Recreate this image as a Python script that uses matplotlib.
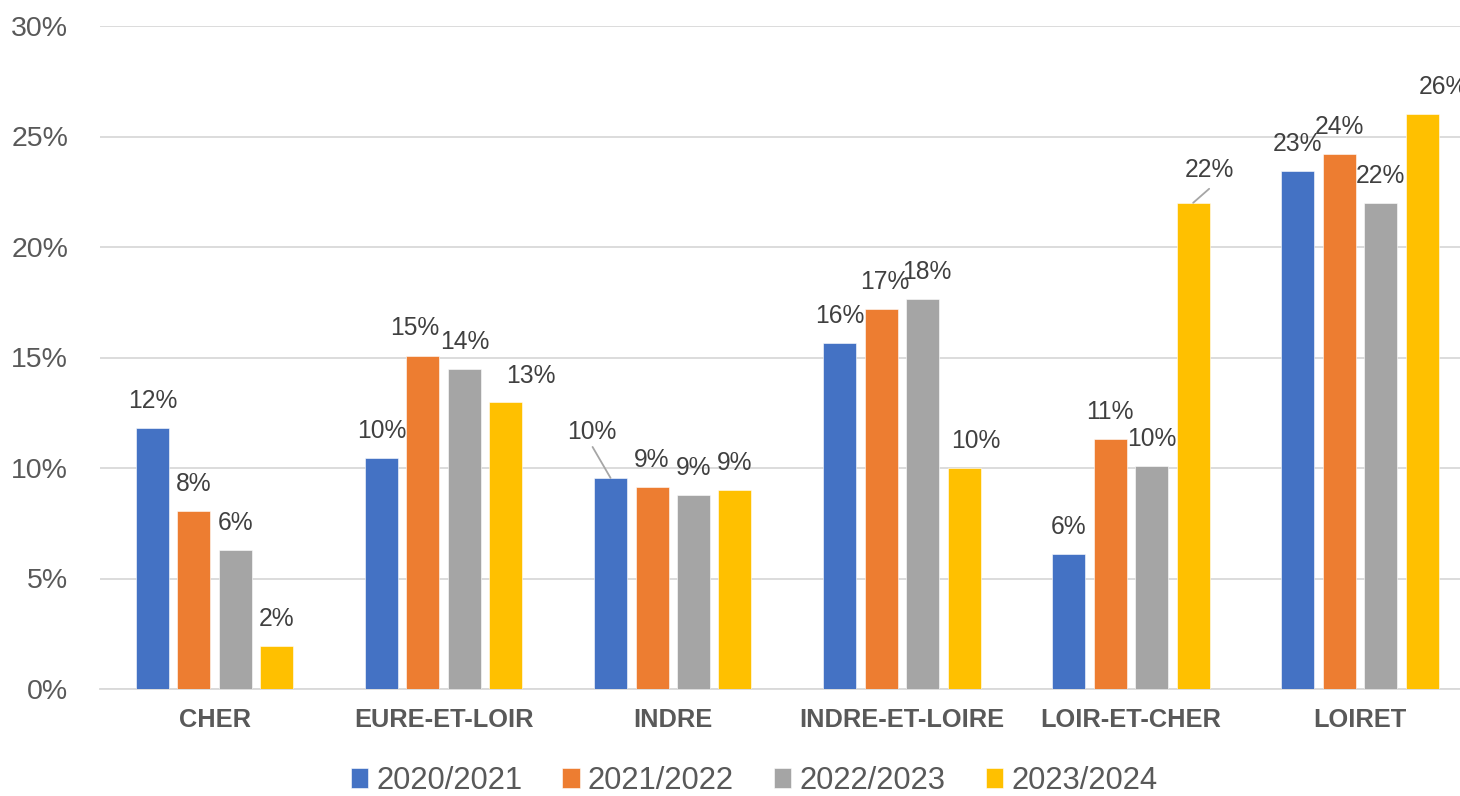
import matplotlib
matplotlib.use("Agg")
import matplotlib.pyplot as plt
import numpy as np

categories = ["CHER", "EURE-ET-LOIR", "INDRE", "INDRE-ET-LOIRE", "LOIR-ET-CHER", "LOIRET"]
series_names = ["2020/2021", "2021/2022", "2022/2023", "2023/2024"]
s2020 = [11.8, 10.45, 9.55, 15.65, 6.1, 23.45]
s2021 = [8.05, 15.05, 9.15, 17.2, 11.3, 24.2]
s2022 = [6.3, 14.5, 8.8, 17.65, 10.1, 22.0]
s2023 = [1.95, 13.0, 9.0, 10.0, 22.0, 26.0]
yticks = [0, 5, 10, 15, 20, 25, 30]

colors = ["#4472C4", "#ED7D31", "#A5A5A5", "#FFC000"]
text_color = "#595959"
label_color = "#404040"

plt.rcParams['font.family'] = ['Liberation Sans', 'DejaVu Sans']

W, H = 1460, 796
fig = plt.figure(figsize=(W / 100, H / 100), dpi=100)
ax = fig.add_axes([100 / W, 1 - 689 / H, 1360 / W, (689 - 26) / H])

series = [s2020, s2021, s2022, s2023]
x = np.arange(len(categories))
step = 0.181
width = 0.144
# label offsets in pixels (dx, dy) per (series, category); default (0, 27)
offsets = {
    (1, 1): (-8, 28), (3, 1): (25, 26),
    (0, 2): (-19, 46),
    (1, 3): (4, 27), (2, 3): (4, 27), (3, 3): (12, 27),
    (3, 4): (16, 33),
    (3, 5): (21, 27),
}
leaders = {(0, 2): (-18, 31), (3, 4): (16, 14)}

for i, (vals, col, name) in enumerate(zip(series, colors, series_names)):
    xs = x + (i - 1.5) * step
    ax.bar(xs, vals, width=width, color=col, label=name, zorder=3,
           edgecolor="white", linewidth=0.4)
    for j, (xx, v) in enumerate(zip(xs, vals)):
        dx, dy = offsets.get((i, j), (0, 27))
        ax.annotate(f"{v:.0f}%", xy=(xx, v), xytext=(dx, dy),
                    textcoords="offset pixels", ha="center", va="center",
                    fontsize=17.7, color=label_color, zorder=5, annotation_clip=False)
        if (i, j) in leaders:
            lx, ly = leaders[(i, j)]
            ax.annotate("", xy=(xx, v), xytext=(lx, ly),
                        textcoords="offset pixels",
                        arrowprops=dict(arrowstyle="-", color="#A6A6A6", lw=1.3,
                                        shrinkA=0, shrinkB=0))

ax.set_xlim(-0.5, -0.5 + 1360 / 229.1)
ax.set_ylim(0, 30)
ax.set_yticks(yticks)
ax.set_yticklabels([f"{t}%" for t in yticks], fontsize=20.5, color=text_color)
ax.set_xticks(x)
ax.set_xticklabels(categories, fontsize=18.3, fontweight="bold", color=text_color)
ax.tick_params(axis="both", length=0)
ax.tick_params(axis="x", pad=14)
ax.tick_params(axis="y", pad=23)
ax.grid(axis="y", color="#D9D9D9", lw=1.3, zorder=0)
for s in ["top", "right", "left"]:
    ax.spines[s].set_visible(False)
ax.spines["bottom"].set_color("#D9D9D9")
ax.spines["bottom"].set_linewidth(1.3)

leg = fig.legend(loc="center", bbox_to_anchor=(754 / W, 1 - 781 / H), ncol=4,
                 frameon=False, fontsize=22.3, handlelength=0.55, handleheight=0.6,
                 handletextpad=0.27, columnspacing=1.3, borderaxespad=0,
                 borderpad=0)
for t in leg.get_texts():
    t.set_color(text_color)

fig.savefig("out.png", dpi=100)
